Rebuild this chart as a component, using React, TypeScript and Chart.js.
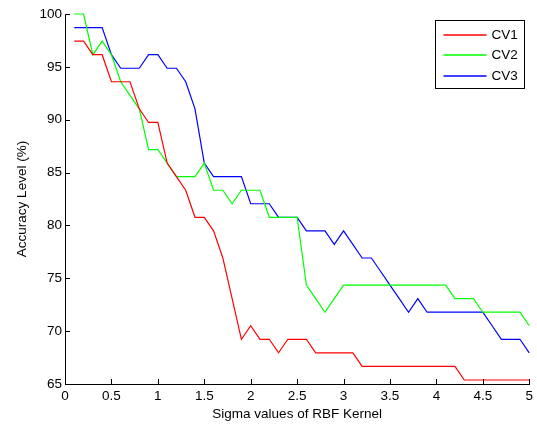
import React, { useEffect, useRef } from "react";
import { Chart, registerables } from "chart.js";

Chart.register(...registerables);

const sigma = [
  0.1, 0.2, 0.3, 0.4, 0.5, 0.6, 0.7, 0.8, 0.9, 1.0,
  1.1, 1.2, 1.3, 1.4, 1.5, 1.6, 1.7, 1.8, 1.9, 2.0,
  2.1, 2.2, 2.3, 2.4, 2.5, 2.6, 2.7, 2.8, 2.9, 3.0,
  3.1, 3.2, 3.3, 3.4, 3.5, 3.6, 3.7, 3.8, 3.9, 4.0,
  4.1, 4.2, 4.3, 4.4, 4.5, 4.6, 4.7, 4.8, 4.9, 5.0,
];

const cv1 = [
  97.44, 97.44, 96.15, 96.15, 93.59, 93.59, 93.59, 91.03, 89.74, 89.74,
  85.9, 84.62, 83.33, 80.77, 80.77, 79.49, 76.92, 73.08, 69.23, 70.51,
  69.23, 69.23, 67.95, 69.23, 69.23, 69.23, 67.95, 67.95, 67.95, 67.95,
  67.95, 66.67, 66.67, 66.67, 66.67, 66.67, 66.67, 66.67, 66.67, 66.67,
  66.67, 66.67, 65.38, 65.38, 65.38, 65.38, 65.38, 65.38, 65.38, 65.38,
];

const cv2 = [
  100, 100, 96.15, 97.44, 96.15, 93.59, 92.31, 91.03, 87.18, 87.18,
  85.9, 84.62, 84.62, 84.62, 85.9, 83.33, 83.33, 82.05, 83.33, 83.33,
  83.33, 80.77, 80.77, 80.77, 80.77, 74.36, 73.08, 71.79, 73.08, 74.36,
  74.36, 74.36, 74.36, 74.36, 74.36, 74.36, 74.36, 74.36, 74.36, 74.36,
  74.36, 73.08, 73.08, 73.08, 71.79, 71.79, 71.79, 71.79, 71.79, 70.51,
];

const cv3 = [
  98.72, 98.72, 98.72, 98.72, 96.15, 94.87, 94.87, 94.87, 96.15, 96.15,
  94.87, 94.87, 93.59, 91.03, 85.9, 84.62, 84.62, 84.62, 84.62, 82.05,
  82.05, 82.05, 80.77, 80.77, 80.77, 79.49, 79.49, 79.49, 78.21, 79.49,
  78.21, 76.92, 76.92, 75.64, 74.36, 73.08, 71.79, 73.08, 71.79, 71.79,
  71.79, 71.79, 71.79, 71.79, 71.79, 70.51, 69.23, 69.23, 69.23, 67.95,
];

const seriesNames = ["CV1", "CV2", "CV3"];
const seriesColors = ["#ff0000", "#00ff00", "#0000ff"];
const xTitle = "Sigma values of RBF Kernel";
const yTitle = "Accuracy Level (%)";

const FONT = "'Liberation Sans', Arial, sans-serif";
const FS = 13.5;

const matlabPlugin = {
  id: "matlabDecor",
  afterDraw(chart: any) {
    const ctx = chart.ctx;
    const { left, right, top, bottom } = chart.chartArea;
    const xs = chart.scales.x;
    const ys = chart.scales.y;
    ctx.save();
    ctx.strokeStyle = "#000";
    ctx.lineWidth = 1;
    ctx.beginPath();
    xs.ticks.forEach((t: any) => {
      const px = Math.round(xs.getPixelForValue(t.value)) + 0.5;
      ctx.moveTo(px, bottom);
      ctx.lineTo(px, bottom - 5);
    });
    ys.ticks.forEach((t: any) => {
      const py = Math.round(ys.getPixelForValue(t.value)) + 0.5;
      ctx.moveTo(left, py);
      ctx.lineTo(left + 5, py);
    });
    ctx.stroke();

    // legend box
    const bx0 = Math.round(right - 94) + 0.5;
    const bx1 = Math.round(right - 5) + 0.5;
    const by0 = Math.round(top + 6) + 0.5;
    const by1 = Math.round(top + 74) + 0.5;
    ctx.fillStyle = "#fff";
    ctx.fillRect(bx0, by0, bx1 - bx0, by1 - by0);
    ctx.strokeStyle = "#000";
    ctx.lineWidth = 1;
    ctx.strokeRect(bx0, by0, bx1 - bx0, by1 - by0);
    ctx.font = `${FS}px ${FONT}`;
    ctx.textBaseline = "middle";
    ctx.textAlign = "left";
    seriesNames.forEach((name, i) => {
      const y = Math.round(by0 + 14 + i * 20.5);
      ctx.beginPath();
      ctx.strokeStyle = seriesColors[i];
      ctx.lineWidth = 1.4;
      ctx.moveTo(bx0 + 8, y);
      ctx.lineTo(bx0 + 51, y);
      ctx.stroke();
      ctx.fillStyle = "#000";
      ctx.fillText(name, bx0 + 56, y + 0.5);
    });
    ctx.restore();
  },
};

export default function App() {
  const ref = useRef<HTMLCanvasElement | null>(null);

  useEffect(() => {
    if (!ref.current) return;
    const allSeries = [cv1, cv2, cv3];
    const chart = new Chart(ref.current, {
      type: "line",
      data: {
        datasets: allSeries.map((vals, i) => ({
          label: seriesNames[i],
          data: sigma.map((x, j) => ({ x, y: vals[j] })),
          borderColor: seriesColors[i],
          backgroundColor: seriesColors[i],
          borderWidth: 1.2,
          pointRadius: 0,
          tension: 0,
          fill: false,
          clip: false as any,
        })),
      },
      options: {
        animation: false,
        responsive: false,
        maintainAspectRatio: false,
        layout: { padding: { top: 14, right: 6, left: 0, bottom: 0 } },
        plugins: {
          legend: { display: false },
          tooltip: { enabled: false },
        },
        scales: {
          x: {
            type: "linear",
            min: 0,
            max: 5,
            ticks: {
              stepSize: 0.5,
              color: "#000",
              padding: 4,
              maxRotation: 0,
              font: { family: FONT, size: FS },
              callback: (v: any) => String(Number(v)),
            },
            grid: { display: false, drawTicks: false },
            border: { display: true, color: "#000", width: 1 },
            title: {
              display: true,
              text: xTitle,
              color: "#000",
              font: { family: FONT, size: FS },
              padding: { top: 0, bottom: 3 },
            },
            afterFit: (s: any) => {
              s.height = 41;
            },
          },
          y: {
            type: "linear",
            min: 65,
            max: 100,
            ticks: {
              stepSize: 5,
              color: "#000",
              padding: 3,
              font: { family: FONT, size: FS },
              callback: (v: any) => String(Number(v)),
            },
            grid: { display: false, drawTicks: false },
            border: { display: true, color: "#000", width: 1 },
            title: {
              display: true,
              text: yTitle,
              color: "#000",
              font: { family: FONT, size: FS },
              padding: { top: 14, bottom: 0 },
            },
            afterFit: (s: any) => {
              s.width = 65;
            },
          },
        },
      },
      plugins: [matlabPlugin],
    });
    return () => chart.destroy();
  }, []);

  return (
    <div style={{ position: "fixed", left: 0, top: 0, width: 537, height: 425, background: "#fff" }}>
      <canvas ref={ref} width={537} height={425} style={{ width: 537, height: 425, display: "block" }} />
    </div>
  );
}
